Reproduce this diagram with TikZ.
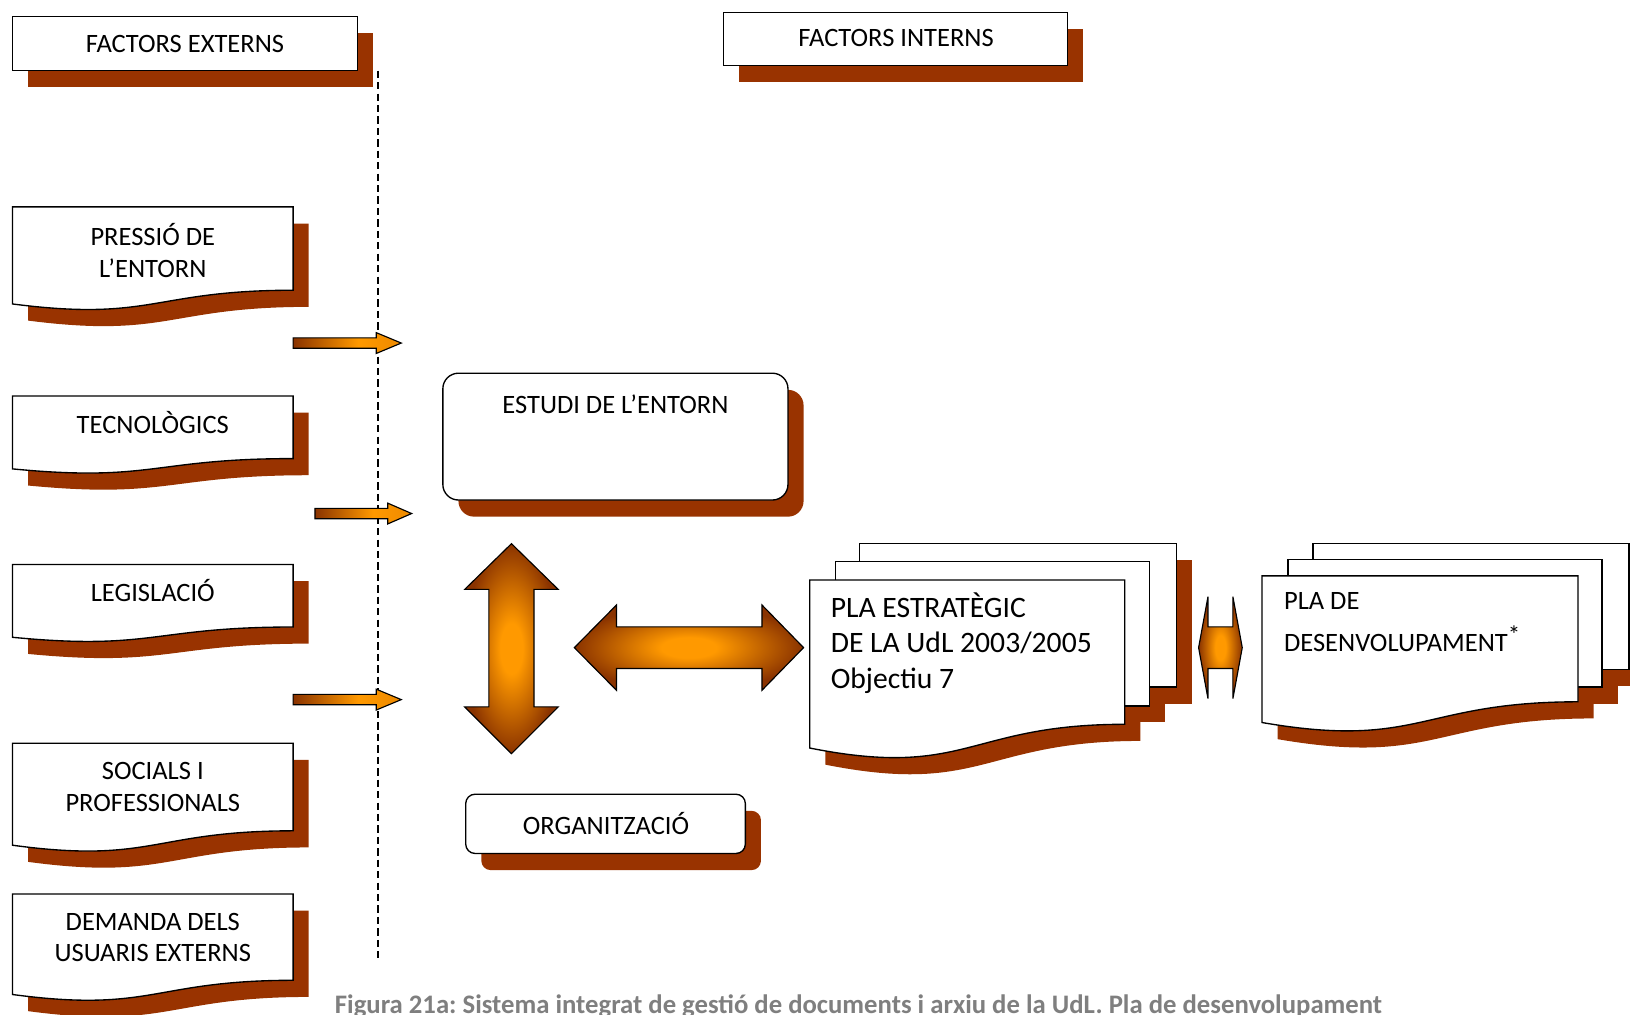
\documentclass[tikz,border=0pt]{standalone}
\usepackage{fontspec}
\setmainfont{Carlito}
\frenchspacing
\definecolor{shadowbrown}{HTML}{993300}
\definecolor{arroworange}{HTML}{FF9900}
\definecolor{arrowdark}{HTML}{8A3300}
\definecolor{captiongray}{HTML}{7F7F7F}

% glow used by the block arrows: bright orange core, dark brown rim
\pgfdeclareradialshading{glow}{\pgfpoint{0bp}{0bp}}{color(0bp)=(arroworange); color(6bp)=(arroworange); color(25bp)=(arrowdark); color(50bp)=(arrowdark)}
% left-to-right fade for the thin arrows
\pgfdeclarehorizontalshading{thinglow}{100bp}{color(0bp)=(arrowdark); color(25bp)=(arrowdark); color(55bp)=(arroworange); color(75bp)=(arroworange!85!arrowdark); color(100bp)=(arroworange!85!arrowdark)}

% document sheet with a wavy lower edge: x, y (top left), width, height
\newcommand\docpath[4]{(#1,#2) -- ({#1+#3},#2) -- ({#1+#3},{#2+0.802*#4}) .. controls ({#1+0.5*#3},{#2+0.802*#4}) and ({#1+0.5*#3},{#2+1.1075*#4}) .. ({#1},{#2+0.934*#4}) -- cycle}

\tikzset{
  outline/.style={draw=black, line width=1.3pt, fill=white},
  shadowfill/.style={fill=shadowbrown, draw=none},
  castshadow/.style={shadowfill, shift={(15,16)}},
  blockarrow/.style={draw=black, line width=1.1pt, shading=glow},
  thinarrow/.style={draw=black, line width=1.1pt, shading=thinglow},
  boxtext/.style={font=\fontsize{25.5}{30}\selectfont, align=center, inner sep=0pt},
  plantext/.style={font=\fontsize{28.5}{34}\selectfont, align=left, inner sep=0pt},
  devtext/.style={font=\fontsize{25.5}{40}\selectfont, align=left, inner sep=0pt},
  captiontext/.style={font=\fontsize{25.7}{30}\selectfont\bfseries, text=captiongray, inner sep=0pt},
}

\newcommand\leftdoc[2]{%
  \fill[castshadow] \docpath{12}{#1}{270}{#2};
  \draw[outline] \docpath{12}{#1}{270}{#2};
}

\begin{document}
\begin{tikzpicture}[x=1pt,y=-1pt]
\useasboundingbox (0,0) rectangle (1568,976);
\fill[white] (0,0) rectangle (1568,976);

% headings
\fill[castshadow] (12,16) rectangle (344,68);
\draw[outline] (12,16) rectangle (344,68);
\node[boxtext] (ext) at (178,42) {FACTORS EXTERNS};
\fill[castshadow] (696,12) rectangle (1027,63);
\draw[outline] (696,12) rectangle (1027,63);
\node[boxtext] (int) at (862,37) {FACTORS INTERNS};

% boundary between external and internal factors
\coordinate (divtop) at (364,68);
\coordinate (divbot) at (364,922);
\draw[line width=1.8pt, dash pattern=on 7pt off 4pt] (divtop) -- (divbot);

% external factors
\leftdoc{199}{100}
\node[boxtext] (press) at (147,241) {PRESSIÓ DE\\L’ENTORN};
\leftdoc{381}{75}
\node[boxtext] (tec) at (147,406) {TECNOLÒGICS};
\leftdoc{543}{75}
\node[boxtext] (leg) at (147,568.5) {LEGISLACIÓ};
\leftdoc{715}{105}
\node[boxtext] (soc) at (147,757) {SOCIALS I\\PROFESSIONALS};
\leftdoc{860}{103.5}
\node[boxtext] (dem) at (147,901.5) {DEMANDA DELS\\USUARIS EXTERNS};

% thin arrows across the boundary
\path[thinarrow] (282,325) -- (362,325) -- (362,320) -- (386,330) -- (362,340) -- (362,335) -- (282,335) -- cycle;
\path[thinarrow] (303,489) -- (373,489) -- (373,484) -- (396,494) -- (373,504) -- (373,499) -- (303,499) -- cycle;
\path[thinarrow] (282,668) -- (362,668) -- (362,663) -- (386,673) -- (362,683) -- (362,678) -- (282,678) -- cycle;

% study of the environment
\fill[castshadow, rounded corners=15] (426,359) rectangle (758,481);
\draw[outline, rounded corners=15] (426,359) rectangle (758,481);
\node[boxtext] (est) at (592,389) {ESTUDI DE L’ENTORN};

% organisation
\fill[castshadow, rounded corners=9] (448,764) rectangle (717,821);
\draw[outline, rounded corners=9] (448,764) rectangle (717,821);
\node[boxtext] (org) at (583,792) {ORGANITZACIÓ};

% vertical double arrow
\path[blockarrow] (492,523) -- (537,567) -- (513.7,567) -- (513.7,680) -- (537,680) -- (492,725) -- (447,680) -- (470.3,680) -- (470.3,567) -- (447,567) -- cycle;
% horizontal double arrow
\path[blockarrow] (552.5,623) -- (593,582) -- (593,603) -- (733,603) -- (733,582) -- (773,623) -- (733,664) -- (733,643) -- (593,643) -- (593,664) -- cycle;

% strategic plan stack
\fill[castshadow] (827,523) rectangle (1132,661);
\fill[castshadow] (804,540) rectangle (1106,679);
\fill[castshadow] \docpath{779}{558}{303}{173};
\draw[outline] (827,523) rectangle (1132,661);
\draw[outline] (804,540) rectangle (1106,679);
\draw[outline] \docpath{779}{558}{303}{173};
\node[plantext, anchor=north west] (pla) at (799,570) {PLA ESTRATÈGIC\\DE LA UdL 2003/2005\\Objectiu 7};

% small double arrow
\path[blockarrow] (1153,623) -- (1162,574) -- (1162,603) -- (1186,603) -- (1186,574) -- (1195,623) -- (1186,672) -- (1186,643) -- (1162,643) -- (1162,672) -- cycle;

% development plan stack
\fill[castshadow] (1263,523) rectangle (1567,644);
\fill[castshadow] (1239,538) rectangle (1541,661);
\fill[castshadow] \docpath{1214}{554}{304}{151};
\draw[outline] (1263,523) rectangle (1567,644);
\draw[outline] (1239,538) rectangle (1541,661);
\draw[outline] \docpath{1214}{554}{304}{151};
\node[devtext, anchor=north west] (dev) at (1235,570) {PLA DE\\DESENVOLUPAMENT\raisebox{8pt}{\fontsize{24}{24}\selectfont *}};

% caption
\node[captiontext, anchor=base west] (cap) at (322,975) {Figura 21a: Sistema integrat de gestió de documents i arxiu de la UdL. Pla de desenvolupament};
\end{tikzpicture}
\end{document}
